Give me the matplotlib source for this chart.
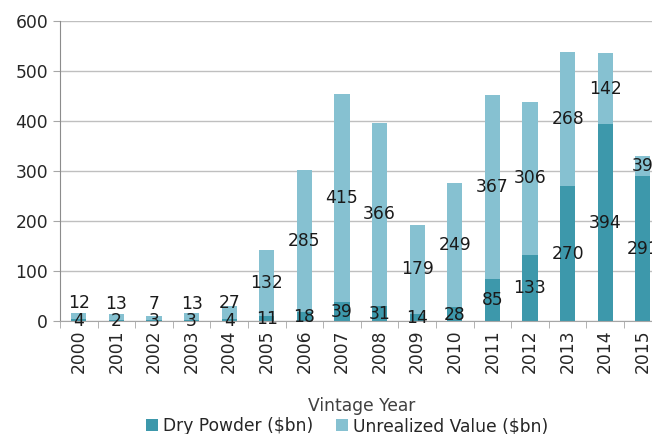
import numpy as np
import matplotlib.pyplot as plt

years = ['2000', '2001', '2002', '2003', '2004', '2005', '2006', '2007',
         '2008', '2009', '2010', '2011', '2012', '2013', '2014', '2015']
dry_powder = [4, 2, 3, 3, 4, 11, 18, 39, 31, 14, 28, 85, 133, 270, 394, 291]
unrealized = [12, 13, 7, 13, 27, 132, 285, 415, 366, 179, 249, 367, 306, 268, 142, 39]

dark = '#3d98ab'
light = '#86c1d1'

plt.rcParams['font.family'] = 'DejaVu Sans'
plt.rcParams['font.size'] = 12.3

fig = plt.figure(figsize=(6.52, 4.34), dpi=100)
ax = fig.add_axes([60 / 652, 1 - 321 / 434, 601.6 / 652, 300 / 434])

x = np.arange(len(years))
dry = np.array(dry_powder)
unr = np.array(unrealized)
ax.bar(x, dry, width=0.4, color=dark, label='Dry Powder ($bn)', zorder=2)
ax.bar(x, unr, width=0.4, bottom=dry, color=light, label='Unrealized Value ($bn)', zorder=2)

for i in range(len(years)):
    dc = dry[i] / 2
    ax.text(x[i], dc - 1, str(dry[i]), ha='center', va='center', color='#1a1a1a', zorder=3)
    # small segments: keep the top label clear of the bottom one
    uc = max(dry[i] + unr[i] / 2, dc + 33)
    ax.text(x[i], uc, str(unr[i]), ha='center', va='center', color='#1a1a1a', zorder=3)

ax.set_xlim(-0.5, len(years) - 0.5)
ax.set_ylim(0, 600)
ax.set_yticks(range(0, 601, 100))
ax.set_xticks(x)
ax.set_xticklabels(years, rotation=90)
ax.set_xticks(np.arange(-0.5, len(years), 1), minor=True)
ax.tick_params(axis='x', which='major', length=0, pad=6)
ax.tick_params(axis='x', which='minor', length=5, color='#a6a6a6', direction='out')
ax.tick_params(axis='y', length=5, color='#a6a6a6', colors='#262626')
ax.tick_params(axis='x', colors='#262626')
ax.yaxis.grid(True, color='#bfbfbf', linewidth=1)
ax.set_axisbelow(True)
for s in ['top', 'right']:
    ax.spines[s].set_visible(False)
ax.spines['left'].set_color('#8c8c8c')
ax.spines['bottom'].set_color('#a6a6a6')

ax.set_xlabel('Vintage Year', color='#404040')
ax.xaxis.set_label_coords(302 / 601.6, -76 / 300)

fig.legend(loc='center', bbox_to_anchor=(347 / 652, 1 - 426 / 434), ncol=2,
           frameon=False, handlelength=0.7, handleheight=0.7, handletextpad=0.3,
           columnspacing=1.3, fontsize=12.3, labelcolor='#262626')

fig.savefig('out.png', dpi=100)
